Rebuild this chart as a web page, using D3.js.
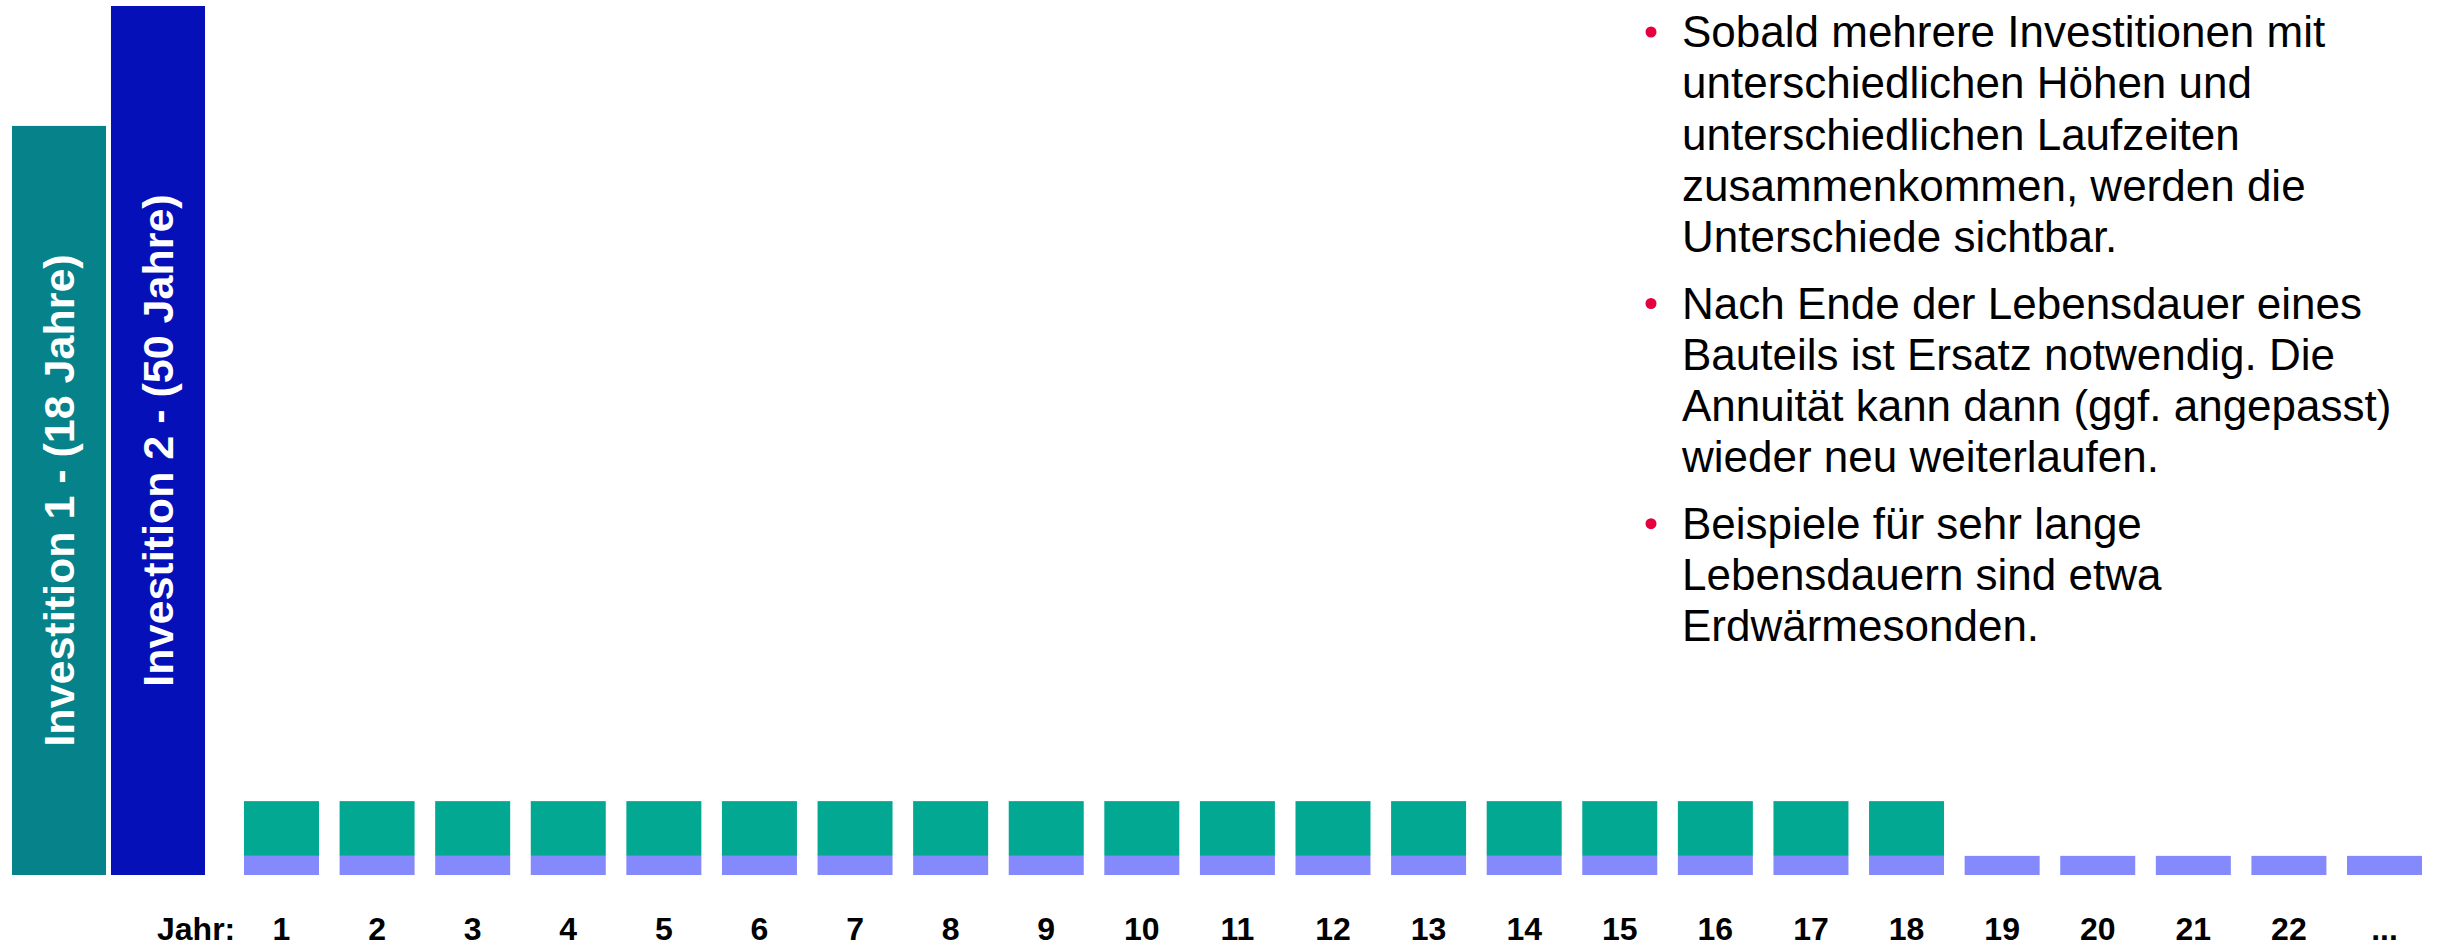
<!DOCTYPE html>
<html lang="de">
<head>
    <meta charset="UTF-8">
    <title>Annuitäten mehrerer Investitionen</title>
    <script src="https://d3js.org/d3.v7.min.js"></script>
    <style>
        body, html {
            margin: 0;
            padding: 0;
            background: #fff;
        }
        svg {
            display: block;
        }
        text {
            font-family: "Liberation Sans", Arial, sans-serif;
        }
        .inv-label {
            fill: #fff;
            font-weight: bold;
            font-size: 43px;
        }
        .year-label {
            font-weight: bold;
            font-size: 32px;
            fill: #000;
        }
        .notes text {
            font-size: 44px;
            fill: #000;
        }
    </style>
</head>
<body>
<script>
    const width = 2440;
    const height = 950;

    // Investitionen (relative Höhe)
    const investNames = ["Investition 1 - (18 Jahre)", "Investition 2 - (50 Jahre)"];
    const investValues = [86.2, 100];

    // Jahre und Annuitäten pro Jahr
    const years = ["1", "2", "3", "4", "5", "6", "7", "8", "9", "10", "11", "12",
                   "13", "14", "15", "16", "17", "18", "19", "20", "21", "22", "..."];
    const annuity1 = [6.3, 6.3, 6.3, 6.3, 6.3, 6.3, 6.3, 6.3, 6.3, 6.3, 6.3, 6.3,
                      6.3, 6.3, 6.3, 6.3, 6.3, 6.3, 0, 0, 0, 0, 0];
    const annuity2 = [2.2, 2.2, 2.2, 2.2, 2.2, 2.2, 2.2, 2.2, 2.2, 2.2, 2.2, 2.2,
                      2.2, 2.2, 2.2, 2.2, 2.2, 2.2, 2.2, 2.2, 2.2, 2.2, 2.2];

    const notes = [
        ["Sobald mehrere Investitionen mit", "unterschiedlichen Höhen und",
         "unterschiedlichen Laufzeiten", "zusammenkommen, werden die", "Unterschiede sichtbar."],
        ["Nach Ende der Lebensdauer eines", "Bauteils ist Ersatz notwendig. Die",
         "Annuität kann dann (ggf. angepasst)", "wieder neu weiterlaufen."],
        ["Beispiele für sehr lange", "Lebensdauern sind etwa", "Erdwärmesonden."]
    ];

    const investColors = ["#05828a", "#0610b9"];
    const color1 = "#02a891";
    const color2 = "#8489fc";

    const svg = d3.select("body").append("svg")
        .attr("width", width)
        .attr("height", height);

    const y = d3.scaleLinear().domain([0, 100]).range([875, 6]);

    const xInv = d3.scaleBand()
        .domain(investNames)
        .range([12, 205])
        .paddingInner(0.05)
        .paddingOuter(0);

    const xYear = d3.scaleBand()
        .domain(years)
        .range([244, 2422])
        .paddingInner(0.2155)
        .paddingOuter(0);

    // große Investitionsbalken
    const inv = svg.append("g").attr("class", "invest")
        .selectAll("g")
        .data(investNames)
        .enter().append("g");

    inv.append("rect")
        .attr("x", d => xInv(d))
        .attr("width", xInv.bandwidth())
        .attr("y", (d, i) => y(investValues[i]))
        .attr("height", (d, i) => y(0) - y(investValues[i]))
        .attr("fill", (d, i) => investColors[i]);

    inv.append("text")
        .attr("class", "inv-label")
        .attr("text-anchor", "middle")
        .attr("transform", (d, i) => {
            const cx = xInv(d) + xInv.bandwidth() / 2 + 15;
            const cy = (y(investValues[i]) + y(0)) / 2;
            return `translate(${cx},${cy}) rotate(-90)`;
        })
        .text(d => d);

    // jährliche Annuitäten (gestapelt)
    const yearG = svg.append("g").attr("class", "years")
        .selectAll("g")
        .data(years)
        .enter().append("g");

    yearG.append("rect")
        .attr("x", d => xYear(d))
        .attr("width", xYear.bandwidth())
        .attr("y", (d, i) => y(annuity2[i]))
        .attr("height", (d, i) => y(0) - y(annuity2[i]))
        .attr("fill", color2);

    yearG.filter((d, i) => annuity1[i] > 0).append("rect")
        .attr("x", d => xYear(d))
        .attr("width", xYear.bandwidth())
        .attr("y", d => { const i = years.indexOf(d); return y(annuity2[i] + annuity1[i]); })
        .attr("height", d => { const i = years.indexOf(d); return y(annuity2[i]) - y(annuity2[i] + annuity1[i]); })
        .attr("fill", color1);

    yearG.append("text")
        .attr("class", "year-label")
        .attr("text-anchor", "middle")
        .attr("x", d => xYear(d) + xYear.bandwidth() / 2)
        .attr("y", 940)
        .text(d => d);

    svg.append("text")
        .attr("class", "year-label")
        .attr("x", 157)
        .attr("y", 940)
        .text("Jahr:");

    // Textblock rechts
    const notesG = svg.append("g").attr("class", "notes");
    const lineH = 51.3;
    let base = 47;
    notes.forEach(par => {
        notesG.append("circle")
            .attr("cx", 1651)
            .attr("cy", base - 15)
            .attr("r", 5.5)
            .attr("fill", "#e6003e");
        par.forEach(line => {
            notesG.append("text")
                .attr("x", 1682)
                .attr("y", base)
                .text(line);
            base += lineH;
        });
        base += 15;
    });
</script>
</body>
</html>
